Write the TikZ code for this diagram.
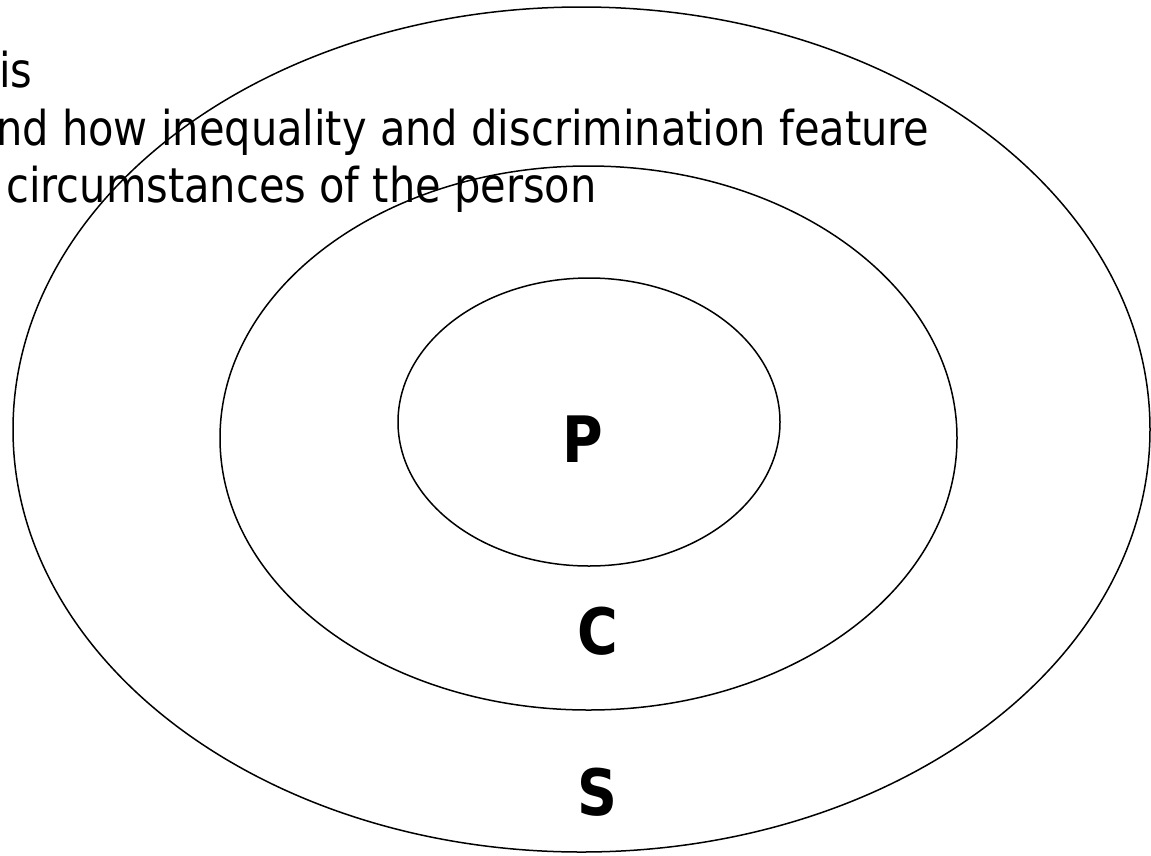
\documentclass[tikz,border=0pt]{standalone}
\usepackage{fontspec}
\setmainfont{DejaVu Sans}[FakeStretch=0.866]
\begin{document}
\begin{tikzpicture}[x=1pt,y=-1pt,
  ring/.style={draw=black,line width=1.5pt},
  bodytext/.style={font=\fontsize{48}{58}\selectfont,inner sep=0pt,anchor=base west},
  lettr/.style={font=\fontsize{64}{70}\selectfont\bfseries,inner sep=0pt}]
\useasboundingbox (0,0) rectangle (1151,855);
\begin{scope}
\clip (0,0) rectangle (1151,855);
\node[bodytext] (t1) at (-1,87) {is};
\node[bodytext] (t2) at (-4,145) {nd how inequality and discrimination feature};
\node[bodytext] (t3) at (6,202) {circumstances of the person};
\draw[ring] (581.5,429.5) ellipse [x radius=568.5, y radius=422.5];
\draw[ring] (588.5,438) ellipse [x radius=368.5, y radius=272];
\draw[ring] (589,422) ellipse [x radius=191, y radius=144];
\end{scope}
\node[lettr] (P) at (583,439) {P};
\node[lettr] (C) at (598,631) {C};
\node[lettr] (S) at (597,792) {S};
\end{tikzpicture}
\end{document}
